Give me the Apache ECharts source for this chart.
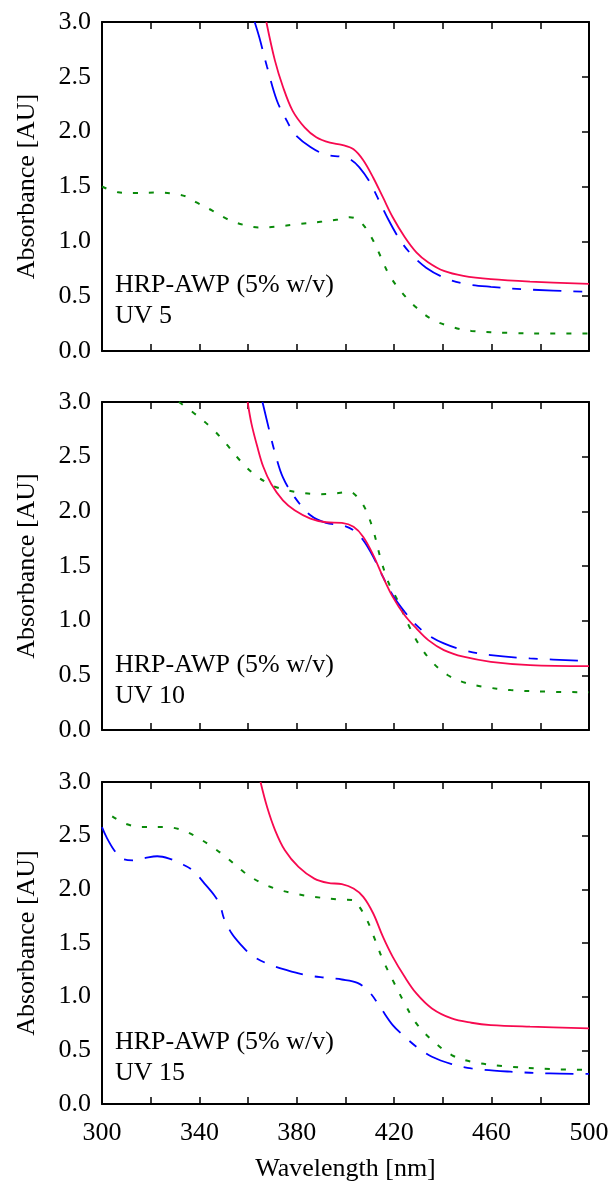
<!DOCTYPE html>
<html><head><meta charset="utf-8">
<script src="https://cdn.jsdelivr.net/npm/echarts@6/dist/echarts.min.js"></script>
<style>html,body{margin:0;padding:0;background:#fff}#c{width:616px;height:1183px}</style>
</head><body><div id="c"></div>
<script>
// ---- data (wavelength nm, absorbance AU) ----
const xTickLabels = [300, 340, 380, 420, 460, 500];
const panelLabels = [['HRP-AWP (5% w/v)', 'UV 5'], ['HRP-AWP (5% w/v)', 'UV 10'], ['HRP-AWP (5% w/v)', 'UV 15']];
const xAxisTitle = 'Wavelength [nm]';
const yAxisTitle = 'Absorbance [AU]';

const p1Red = [[367.5,3.0],[371,2.65],[374.3,2.41],[378.3,2.19],[383.2,2.04],[388,1.95],[393.6,1.90],[398.5,1.88],[403.3,1.84],[407.3,1.74],[411.4,1.58],[415.4,1.40],[419.4,1.22],[424.3,1.04],[429.1,0.90],[433.9,0.81],[440.4,0.73],[448.4,0.685],[459.7,0.655],[475.8,0.633],[500,0.612]];
const p1Blue = [[362.7,3.0],[364.6,2.86],[367.8,2.59],[371.9,2.28],[375.9,2.10],[379.1,1.98],[385.6,1.86],[392,1.79],[398.5,1.77],[402.5,1.74],[405.7,1.675],[409.7,1.55],[413.8,1.37],[417.8,1.19],[422.6,1.005],[427.5,0.87],[433.1,0.76],[440.4,0.67],[448.4,0.615],[459.7,0.585],[475.8,0.56],[500,0.54]];
const p1Green = [[300,1.50],[306.6,1.447],[313,1.44],[322.7,1.445],[330.8,1.43],[335.6,1.40],[338.8,1.355],[345.3,1.28],[351.7,1.20],[358.2,1.15],[364.6,1.127],[371,1.133],[380.7,1.157],[390.4,1.18],[396.9,1.20],[401.7,1.22],[404.9,1.20],[408.1,1.127],[411.4,1.005],[414.6,0.853],[417.8,0.70],[422.6,0.548],[429.1,0.396],[435.5,0.289],[443.6,0.22],[451.7,0.183],[467.8,0.165],[483.9,0.16],[500,0.16]];

const p2Red = [[359.8,3.0],[361.4,2.80],[363.8,2.59],[366.2,2.41],[369.5,2.25],[374.3,2.10],[379.1,2.01],[385.6,1.934],[392,1.90],[398.5,1.894],[403.3,1.858],[407.3,1.766],[411.4,1.60],[415.4,1.40],[419.4,1.218],[424.3,1.05],[429.1,0.929],[434,0.822],[440.4,0.731],[448.4,0.67],[459.7,0.624],[475.8,0.594],[500,0.585]];
const p2Blue = [[365.9,3.0],[368.7,2.74],[371.1,2.53],[374.3,2.31],[379.1,2.13],[385.6,1.964],[392,1.894],[398.5,1.873],[403.3,1.827],[407.3,1.736],[411.4,1.584],[415.4,1.40],[419.4,1.233],[424.3,1.081],[429.1,0.959],[434,0.868],[440.4,0.792],[448.4,0.731],[459.7,0.685],[475.8,0.655],[500,0.63]];
const p2Green = [[331.6,3.0],[338.8,2.88],[345.3,2.756],[350.9,2.62],[356.6,2.467],[362.2,2.345],[369.5,2.24],[375.9,2.193],[382.4,2.168],[388.8,2.156],[395.2,2.162],[401.7,2.178],[404.9,2.13],[408.1,2.025],[411.4,1.827],[414.6,1.553],[417.8,1.34],[421,1.203],[425.9,0.959],[429.9,0.792],[435.5,0.624],[441.9,0.503],[449.2,0.432],[456.5,0.396],[467.8,0.365],[483.9,0.35],[500,0.345]];

const p3Red = [[365.1,3.0],[367.8,2.767],[371.1,2.55],[375.1,2.364],[380.7,2.209],[387.2,2.10],[392.8,2.06],[398.5,2.048],[403.3,2.007],[407.3,1.93],[411.4,1.775],[415.4,1.557],[419.4,1.371],[424.3,1.185],[429.1,1.03],[435.5,0.89],[443.6,0.797],[451.7,0.757],[459.7,0.735],[475.8,0.72],[500,0.705]];
const p3Blue = [[300,2.58],[301.8,2.488],[305,2.364],[308.2,2.286],[313.1,2.27],[317.9,2.293],[322.7,2.308],[327.6,2.286],[332.4,2.24],[337.2,2.178],[342.1,2.054],[346.1,1.945],[348.5,1.852],[350.1,1.728],[353.3,1.588],[356.6,1.495],[361.4,1.387],[367.8,1.309],[375.9,1.247],[383.9,1.20],[392,1.176],[398.5,1.16],[404.9,1.129],[409.7,1.046],[414.6,0.89],[419.4,0.735],[424.3,0.627],[429.1,0.534],[435.5,0.44],[443.6,0.372],[451.7,0.332],[467.8,0.301],[483.9,0.285],[500,0.28]];
const p3Green = [[304.2,2.68],[309.8,2.61],[316.3,2.58],[326,2.58],[332.4,2.556],[338.8,2.488],[345.3,2.395],[351.7,2.286],[358.2,2.162],[364.6,2.069],[371.1,2.007],[379.1,1.96],[387.2,1.93],[396.9,1.905],[403.3,1.898],[405.7,1.837],[408.9,1.712],[412.2,1.526],[415.4,1.34],[419.4,1.154],[424.3,0.937],[429.1,0.751],[435.5,0.596],[443.6,0.456],[451.7,0.394],[464.5,0.354],[483.9,0.326],[500,0.318]];

const panelSeries = [[p1Red, p1Blue, p1Green], [p2Red, p2Blue, p2Green], [p3Red, p3Blue, p3Green]];

// ---- layout / style ----
const FONT = 'Liberation Serif';
const gridBoxes = [{ top: 22, height: 329 }, { top: 402, height: 328 }, { top: 782, height: 322 }];
const colors = ['#f7094f', '#0000ff', '#0a8a0a'];
const dashTypes = ['solid', [28, 12, 9, 12], [5, 11]];
const widths = [1.8, 1.8, 2];

const grid = [], xAxis = [], yAxis = [], series = [], graphic = [];
gridBoxes.forEach((g, i) => {
  grid.push({ left: 102, width: 487, top: g.top, height: g.height });
  const last = i === gridBoxes.length - 1;
  const axisLine = { show: true, onZero: false, lineStyle: { color: '#000', width: 2 } };
  const tick = { show: true, inside: true, length: 7, lineStyle: { color: '#000', width: 1.5 } };
  xAxis.push({
    type: 'value', gridIndex: i, position: 'bottom', min: 300, max: 500, interval: 20,
    axisLine, axisTick: tick, splitLine: { show: false },
    axisLabel: { show: last, margin: 16, color: '#000', fontFamily: FONT, fontSize: 26,
      formatter: v => xTickLabels.includes(v) ? String(v) : '' },
    name: last ? xAxisTitle : '', nameLocation: 'middle', nameGap: 52,
    nameTextStyle: { color: '#000', fontFamily: FONT, fontSize: 26 }
  });
  xAxis.push({
    type: 'value', gridIndex: i, position: 'top', min: 300, max: 500, interval: 20,
    axisLine, axisTick: tick, splitLine: { show: false }, axisLabel: { show: false }
  });
  yAxis.push({
    type: 'value', gridIndex: i, position: 'left', min: 0, max: 3, interval: 0.5,
    axisLine, axisTick: { show: false }, splitLine: { show: false },
    axisLabel: { margin: 11, color: '#000', fontFamily: FONT, fontSize: 26, formatter: v => v.toFixed(1) },
    name: yAxisTitle, nameLocation: 'middle', nameGap: 62, nameRotate: 90,
    nameTextStyle: { color: '#000', fontFamily: FONT, fontSize: 26 }
  });
  yAxis.push({
    type: 'value', gridIndex: i, position: 'right', min: 0, max: 3, interval: 0.5,
    axisLine, axisTick: tick, splitLine: { show: false }, axisLabel: { show: false }
  });
  panelSeries[i].forEach((d, k) => {
    series.push({
      type: 'line', xAxisIndex: 2 * i, yAxisIndex: 2 * i, data: d, showSymbol: false, smooth: 0.35,
      silent: true, z: 3 - k,
      lineStyle: { color: colors[k], width: widths[k], type: dashTypes[k] }
    });
  });
  const lineTops = [[287, 318], [667, 698], [1044, 1075]][i];
  panelLabels[i].forEach((t, j) => {
    graphic.push({ type: 'text', left: 115, top: lineTops[j] - 15,
      style: { text: t, fill: '#000', fontSize: 26, fontFamily: FONT } });
  });
});

const chart = echarts.init(document.getElementById('c'), null, { renderer: 'canvas' });
chart.setOption({ animation: false, backgroundColor: '#fff', grid, xAxis, yAxis, series, graphic });
</script>
</body></html>
